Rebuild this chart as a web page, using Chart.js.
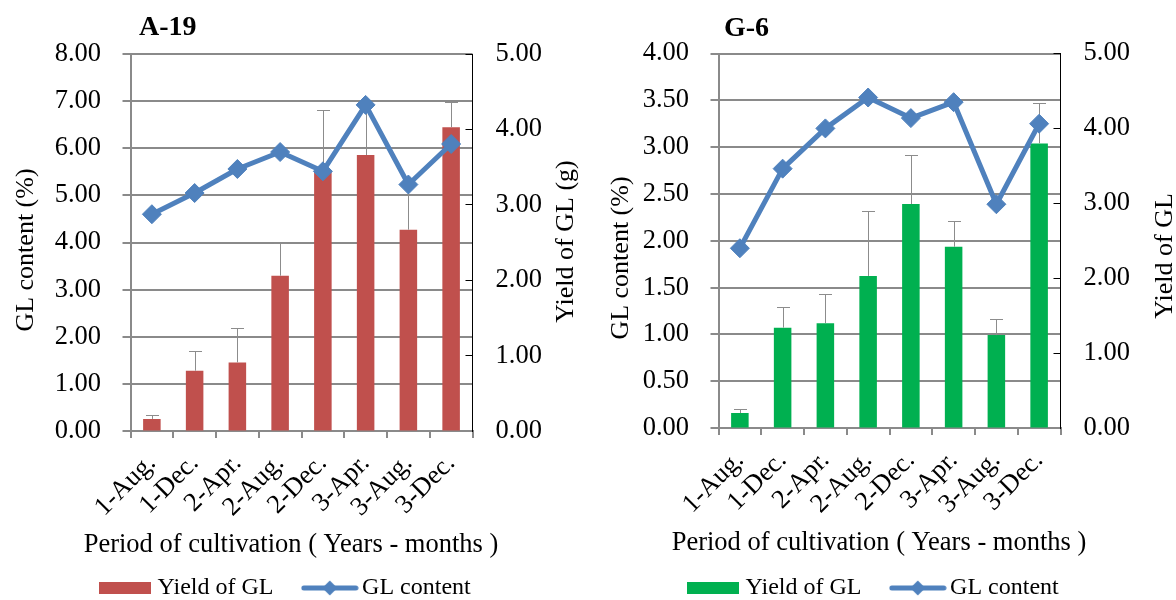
<!DOCTYPE html>
<html>
<head>
<meta charset="utf-8">
<script src="https://cdn.jsdelivr.net/npm/chart.js@4.4.1/dist/chart.umd.min.js"></script>
<style>
  html, body { margin: 0; padding: 0; background: #fff; overflow: hidden; width: 1176px; height: 600px; }
  .panel { position: absolute; top: 0; width: 588px; height: 610px; }
  #p1 { left: 0; }
  #p2 { left: 588px; }
</style>
</head>
<body>
<div class="panel" id="p1"><canvas id="c1" width="588" height="610"></canvas></div>
<div class="panel" id="p2"><canvas id="c2" width="588" height="610"></canvas></div>
<script>
// Cultivation periods (year - month)
const periods = ['1-Aug.', '1-Dec.', '2-Apr.', '2-Aug.', '2-Dec.', '3-Apr.', '3-Aug.', '3-Dec.'];

// Strain A-19
const glContentA19 = [4.60, 5.05, 5.56, 5.92, 5.51, 6.92, 5.23, 6.09];   // %
const yieldA19     = [0.16, 0.80, 0.91, 2.06, 3.44, 3.66, 2.67, 4.03];   // g
const yieldErrA19  = [0.05, 0.26, 0.45, 0.43, 0.82, 0.65, 0.58, 0.33];

// Strain G-6
const glContentG6 = [1.92, 2.77, 3.20, 3.53, 3.31, 3.48, 2.39, 3.25];
const yieldG6     = [0.20, 1.34, 1.40, 2.03, 2.99, 2.42, 1.24, 3.80];
const yieldErrG6  = [0.05, 0.28, 0.39, 0.87, 0.65, 0.35, 0.21, 0.54];

// Axis tick values
const contentTicksA19 = [0, 1, 2, 3, 4, 5, 6, 7, 8];
const contentTicksG6  = [0, 0.5, 1, 1.5, 2, 2.5, 3, 3.5, 4];
const yieldTicks      = [0, 1, 2, 3, 4, 5];

const SERIF = "'Liberation Serif', 'Times New Roman', serif";
const LINE_BLUE = '#4F81BD';
const GRID_GREY = '#8a8a8a';
const TICK_SIZE = 26.5;
const CANVAS_W = 588, CANVAS_H = 610;
const PAD_RIGHT = 12.4;
const LEGEND_H = 24 + 36 + 10;

Chart.defaults.font.family = SERIF;
Chart.defaults.color = '#000';

function legendBarImage(color) {
  const c = document.createElement('canvas');
  c.width = 52; c.height = 12;
  const g = c.getContext('2d');
  g.fillStyle = color;
  g.fillRect(0, 0, 52, 12);
  return c;
}

function legendLineImage(color) {
  const c = document.createElement('canvas');
  c.width = 58; c.height = 18;
  const g = c.getContext('2d');
  g.strokeStyle = color;
  g.lineWidth = 5;
  g.lineCap = 'round';
  g.beginPath(); g.moveTo(3, 9); g.lineTo(55, 9); g.stroke();
  g.fillStyle = color;
  g.beginPath();
  g.moveTo(29 - 7.5, 9); g.lineTo(29, 9 - 7.5); g.lineTo(29 + 7.5, 9); g.lineTo(29, 9 + 7.5);
  g.closePath(); g.fill();
  return c;
}

function makeChart(canvasId, cfg) {
  // error bars (upper whisker with cap) drawn right after the bars, under the line
  const errorBars = {
    id: 'errorBars',
    afterDatasetDraw(chart, args) {
      if (args.index !== 0) return;
      const ctx = chart.ctx;
      const yS = chart.scales.yR;
      ctx.save();
      ctx.strokeStyle = '#8c8c8c';
      ctx.lineWidth = 1;
      args.meta.data.forEach((bar, i) => {
        const v = cfg.yield[i];
        const yTop = Math.round(yS.getPixelForValue(v + cfg.err[i])) + 0.5;
        const yBar = yS.getPixelForValue(v);
        const x = Math.round(bar.x) + 0.5;
        ctx.beginPath();
        ctx.moveTo(x, yBar);
        ctx.lineTo(x, yTop);
        ctx.moveTo(x - 6.5, yTop);
        ctx.lineTo(x + 6.5, yTop);
        ctx.stroke();
      });
      ctx.restore();
    }
  };

  // panel caption and axis titles
  const panelText = {
    id: 'panelText',
    afterDraw(chart) {
      const ctx = chart.ctx;
      ctx.save();
      ctx.fillStyle = '#000';
      ctx.font = 'bold 28px ' + SERIF;
      ctx.textAlign = 'left';
      ctx.textBaseline = 'alphabetic';
      ctx.fillText(cfg.title, cfg.titleX, cfg.titleY);

      ctx.font = '26.5px ' + SERIF;
      ctx.textAlign = 'center';
      ctx.textBaseline = 'middle';
      ctx.fillText('Period of cultivation ( Years - months )', cfg.xTitleX, cfg.xTitleY);

      ctx.font = '26px ' + SERIF;
      ctx.save();
      ctx.translate(cfg.leftTitleX, cfg.leftTitleY);
      ctx.rotate(-Math.PI / 2);
      ctx.fillText('GL content (%)', 0, 0);
      ctx.restore();

      ctx.save();
      ctx.translate(cfg.rightTitleX, cfg.rightTitleY);
      ctx.rotate(-Math.PI / 2);
      ctx.fillText(cfg.rightTitle, 0, 0);
      ctx.restore();
      ctx.restore();
    }
  };

  const barImg = legendBarImage(cfg.barColor);
  const lineImg = legendLineImage(LINE_BLUE);
  const area = cfg.area;

  return new Chart(document.getElementById(canvasId), {
    type: 'bar',
    data: {
      labels: periods,
      datasets: [
        {
          type: 'bar',
          label: 'Yield of GL',
          data: cfg.yield,
          yAxisID: 'yR',
          backgroundColor: cfg.barColor,
          borderWidth: 0,
          categoryPercentage: 1,
          barPercentage: 0.41,
          order: 2
        },
        {
          type: 'line',
          label: 'GL content',
          data: cfg.content,
          yAxisID: 'yL',
          borderColor: LINE_BLUE,
          borderWidth: 5,
          borderJoinStyle: 'round',
          borderCapStyle: 'round',
          tension: 0,
          pointStyle: 'rectRot',
          pointRadius: 9.5,
          pointBackgroundColor: LINE_BLUE,
          pointBorderColor: LINE_BLUE,
          pointBorderWidth: 1,
          order: 1
        }
      ]
    },
    options: {
      responsive: false,
      animation: false,
      events: [],
      devicePixelRatio: 1,
      layout: { padding: { left: 0, right: PAD_RIGHT, top: area.top, bottom: 0 } },
      plugins: {
        tooltip: { enabled: false },
        legend: {
          position: 'bottom',
          labels: {
            usePointStyle: true,
            pointStyleWidth: 40.6,
            padding: 36,
            font: { size: 24, family: SERIF },
            color: '#000',
            generateLabels: () => [
              { text: 'Yield of GL', pointStyle: barImg, fillStyle: cfg.barColor, strokeStyle: 'rgba(0,0,0,0)', lineWidth: 0, hidden: false, datasetIndex: 0 },
              { text: 'GL content', pointStyle: lineImg, fillStyle: LINE_BLUE, strokeStyle: 'rgba(0,0,0,0)', lineWidth: 0, hidden: false, datasetIndex: 1 }
            ]
          }
        }
      },
      scales: {
        x: {
          type: 'category',
          offset: true,
          grid: { drawOnChartArea: false, color: GRID_GREY, lineWidth: 2, tickLength: 7, offset: true },
          border: { color: GRID_GREY, width: 2 },
          ticks: { autoSkip: false, minRotation: 45, maxRotation: 45, padding: 10, font: { size: TICK_SIZE }, color: '#000' },
          afterFit: (s) => { s.height = (CANVAS_H - LEGEND_H) - area.bottom; }
        },
        yL: {
          position: 'left',
          min: cfg.contentTicks[0],
          max: cfg.contentTicks[cfg.contentTicks.length - 1],
          afterBuildTicks: (s) => { s.ticks = cfg.contentTicks.map(v => ({ value: v })); },
          grid: { color: GRID_GREY, lineWidth: 2, tickLength: 8 },
          border: { color: GRID_GREY, width: 2 },
          ticks: { padding: 21.5, font: { size: TICK_SIZE }, color: '#000', callback: (v) => Number(v).toFixed(2) },
          afterFit: (s) => { s.width = area.left; }
        },
        yR: {
          position: 'right',
          min: yieldTicks[0],
          max: yieldTicks[yieldTicks.length - 1],
          afterBuildTicks: (s) => { s.ticks = yieldTicks.map(v => ({ value: v })); },
          grid: { drawOnChartArea: false, color: '#000', lineWidth: 1, tickLength: -7 },
          border: { color: '#000', width: 1 },
          ticks: { padding: 30, font: { size: TICK_SIZE }, color: '#000', callback: (v) => Number(v).toFixed(2) },
          afterFit: (s) => { s.width = CANVAS_W - PAD_RIGHT - area.right; }
        }
      }
    },
    plugins: [errorBars, panelText]
  });
}

makeChart('c1', {
  title: 'A-19', titleX: 139, titleY: 35,
  content: glContentA19, yield: yieldA19, err: yieldErrA19,
  contentTicks: contentTicksA19, barColor: '#C0504D',
  area: { left: 130.5, right: 472.5, top: 54, bottom: 431 },
  leftTitleX: 26, leftTitleY: 250,
  rightTitle: 'Yield of GL (g)', rightTitleX: 566, rightTitleY: 241.5,
  xTitleX: 291, xTitleY: 545
});

makeChart('c2', {
  title: 'G-6', titleX: 136, titleY: 36,
  content: glContentG6, yield: yieldG6, err: yieldErrG6,
  contentTicks: contentTicksG6, barColor: '#00B050',
  area: { left: 130.5, right: 472.5, top: 53.5, bottom: 428 },
  leftTitleX: 33, leftTitleY: 258,
  rightTitle: 'Yield of GL', rightTitleX: 577, rightTitleY: 256,
  xTitleX: 291, xTitleY: 543
});
</script>
</body>
</html>
